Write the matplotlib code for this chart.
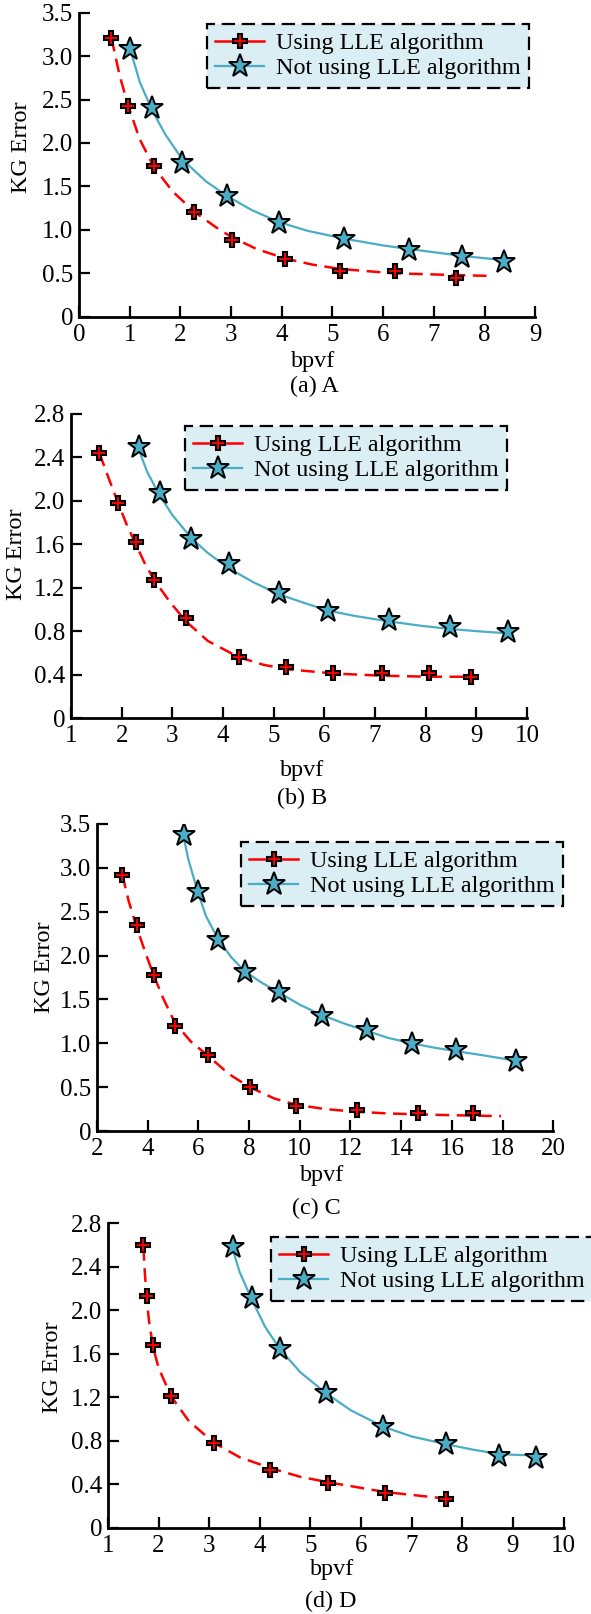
import numpy as np
import matplotlib
matplotlib.use('Agg')
import matplotlib.pyplot as plt
from matplotlib.lines import Line2D

plt.rcParams['font.family'] = ['Liberation Serif', 'DejaVu Serif']
plt.rcParams['font.size'] = 17.4

RED = '#FF0000'
CYAN = '#4BACC6'
LEG_BG = '#DAEEF3'

# ---- data ----
# (a) A
a_lle_x = [0.64, 0.97, 1.48, 2.27, 3.01, 4.07, 5.15, 6.23, 7.43]
a_lle_y = [3.21, 2.43, 1.73, 1.21, 0.88, 0.66, 0.53, 0.53, 0.44]
a_lle_fit_x = [0.64, 0.8, 0.97, 1.2, 1.48, 1.85, 2.27, 2.7, 3.0, 3.5, 4.07, 4.6, 5.15, 6.2, 7.4, 8.07]
a_lle_fit_y = [3.21, 2.78, 2.43, 2.04, 1.72, 1.44, 1.21, 1.03, 0.92, 0.78, 0.67, 0.60, 0.55, 0.50, 0.48, 0.47]
a_no_x = [1.01, 1.44, 2.04, 2.92, 3.94, 5.22, 6.50, 7.56, 8.39]
a_no_y = [3.08, 2.40, 1.77, 1.39, 1.08, 0.90, 0.77, 0.69, 0.63]
a_no_fit_x = [1.01, 1.2, 1.44, 1.7, 2.04, 2.5, 2.92, 3.4, 3.94, 4.5, 5.22, 6.0, 6.5, 7.56, 8.39]
a_no_fit_y = [3.08, 2.70, 2.38, 2.10, 1.81, 1.56, 1.39, 1.23, 1.09, 0.99, 0.90, 0.82, 0.78, 0.70, 0.65]

# (b) B
b_lle_x = [1.56, 1.93, 2.28, 2.63, 3.27, 4.31, 5.25, 6.18, 7.13, 8.07, 8.89]
b_lle_y = [2.44, 1.98, 1.62, 1.27, 0.92, 0.56, 0.47, 0.41, 0.41, 0.41, 0.38]
b_lle_fit_x = [1.56, 1.75, 1.93, 2.1, 2.28, 2.45, 2.63, 2.95, 3.27, 3.7, 4.31, 4.8, 5.25, 6.18, 7.13, 8.07, 8.89]
b_lle_fit_y = [2.44, 2.20, 1.98, 1.78, 1.60, 1.43, 1.28, 1.07, 0.89, 0.71, 0.56, 0.49, 0.45, 0.41, 0.39, 0.38, 0.38]
b_no_x = [2.34, 2.75, 3.37, 4.11, 5.10, 6.07, 7.27, 8.48, 9.62]
b_no_y = [2.50, 2.07, 1.65, 1.42, 1.15, 0.99, 0.90, 0.84, 0.79]
b_no_fit_x = [2.34, 2.5, 2.75, 3.0, 3.37, 3.7, 4.11, 4.6, 5.10, 5.6, 6.07, 6.6, 7.27, 7.9, 8.48, 9.0, 9.62]
b_no_fit_y = [2.47, 2.27, 2.05, 1.87, 1.66, 1.52, 1.38, 1.25, 1.14, 1.06, 0.99, 0.94, 0.89, 0.85, 0.82, 0.80, 0.78]

# (c) C
c_lle_x = [3.0, 3.56, 4.23, 5.08, 6.37, 8.02, 9.84, 12.25, 14.65, 16.85]
c_lle_y = [2.92, 2.35, 1.78, 1.20, 0.87, 0.50, 0.29, 0.24, 0.20, 0.20]
c_lle_fit_x = [3.0, 3.25, 3.56, 3.9, 4.23, 4.6, 5.08, 5.7, 6.37, 7.2, 8.02, 9.0, 9.84, 11.0, 12.2, 13.5, 14.6, 16.0, 17.94]
c_lle_fit_y = [2.92, 2.62, 2.33, 2.04, 1.78, 1.52, 1.23, 1.02, 0.86, 0.65, 0.50, 0.37, 0.30, 0.25, 0.22, 0.20, 0.19, 0.18, 0.17]
c_no_x = [5.42, 5.97, 6.79, 7.83, 9.17, 10.88, 12.66, 14.42, 16.16, 18.54]
c_no_y = [3.38, 2.73, 2.18, 1.81, 1.59, 1.31, 1.15, 0.99, 0.92, 0.80]
c_no_fit_x = [5.42, 5.6, 5.97, 6.3, 6.79, 7.3, 7.83, 8.5, 9.17, 10.0, 10.88, 11.8, 12.66, 13.5, 14.42, 15.3, 16.16, 17.3, 18.54]
c_no_fit_y = [3.35, 3.10, 2.73, 2.45, 2.18, 1.98, 1.82, 1.69, 1.58, 1.44, 1.32, 1.22, 1.14, 1.06, 1.00, 0.95, 0.91, 0.86, 0.80]

# (d) D
d_lle_x = [1.70, 1.78, 1.89, 2.245, 3.10, 4.21, 5.35, 6.48, 7.68]
d_lle_y = [2.60, 2.13, 1.68, 1.21, 0.78, 0.53, 0.41, 0.32, 0.27]
d_lle_fit_x = [1.70, 1.72, 1.76, 1.81, 1.89, 2.0, 2.245, 2.6, 3.1, 3.6, 4.21, 4.8, 5.35, 6.48, 7.68]
d_lle_fit_y = [2.58, 2.40, 2.13, 1.90, 1.66, 1.47, 1.21, 0.98, 0.78, 0.65, 0.55, 0.47, 0.42, 0.33, 0.27]
d_no_x = [3.47, 3.84, 4.40, 5.30, 6.44, 7.68, 8.72, 9.45]
d_no_y = [2.58, 2.11, 1.64, 1.24, 0.93, 0.77, 0.66, 0.64]
d_no_fit_x = [3.47, 3.6, 3.84, 4.1, 4.40, 4.8, 5.30, 5.8, 6.44, 7.0, 7.68, 8.2, 8.72, 9.1, 9.45]
d_no_fit_y = [2.55, 2.35, 2.10, 1.85, 1.64, 1.43, 1.24, 1.08, 0.93, 0.84, 0.77, 0.72, 0.68, 0.67, 0.67]

captions = ['(a) A', '(b) B', '(c) C', '(d) D']
series_names = ['Using LLE algorithm', 'Not using LLE algorithm']

W, H = 591, 1614
fig = plt.figure(figsize=(W / 100, H / 100), dpi=100)

# layout in pixels: axes box (left, top, right, bottom), legend corner, label spots
panels = [
    dict(box=(79, 12.7, 535.3, 316.7), xlim=(0, 9), xticks=np.arange(0, 10, 1),
         ylim=(0, 3.5), yticks=np.arange(0, 3.51, 0.5), leg=(207, 24),
         xlab=(313, 361.7), cap=(314, 386.7), ylab=(22, 147),
         data=(a_lle_x, a_lle_y, a_lle_fit_x, a_lle_fit_y, a_no_x, a_no_y, a_no_fit_x, a_no_fit_y)),
    dict(box=(71, 414, 527, 718), xlim=(1, 10), xticks=np.arange(1, 11, 1),
         ylim=(0, 2.8), yticks=np.arange(0, 2.81, 0.4), leg=(185, 426),
         xlab=(302, 770), cap=(302, 798), ylab=(17, 554),
         data=(b_lle_x, b_lle_y, b_lle_fit_x, b_lle_fit_y, b_no_x, b_no_y, b_no_fit_x, b_no_fit_y)),
    dict(box=(97, 824, 553.3, 1131), xlim=(2, 20), xticks=np.arange(2, 21, 2),
         ylim=(0, 3.5), yticks=np.arange(0, 3.51, 0.5), leg=(241, 842),
         xlab=(322, 1175), cap=(316, 1208), ylab=(45, 967),
         data=(c_lle_x, c_lle_y, c_lle_fit_x, c_lle_fit_y, c_no_x, c_no_y, c_no_fit_x, c_no_fit_y)),
    dict(box=(108, 1223, 563.5, 1528), xlim=(1, 10), xticks=np.arange(1, 11, 1),
         ylim=(0, 2.8), yticks=np.arange(0, 2.81, 0.4), leg=(271, 1237),
         xlab=(332, 1569), cap=(331, 1601), ylab=(52, 1367),
         data=(d_lle_x, d_lle_y, d_lle_fit_x, d_lle_fit_y, d_no_x, d_no_y, d_no_fit_x, d_no_fit_y)),
]


def ylabel_fmt(v):
    return '0' if abs(v) < 1e-9 else '%.1f' % v


red_kw = dict(marker='P', markersize=10, markerfacecolor=RED, markeredgecolor='black',
              markeredgewidth=1.5)
star_kw = dict(marker='*', markersize=17, markerfacecolor=CYAN, markeredgecolor='black',
               markeredgewidth=1.4)

for p, cap in zip(panels, captions):
    l, t, r, b = p['box']
    ax = fig.add_axes([l / W, 1 - b / H, (r - l) / W, (b - t) / H])
    lx, ly, lfx, lfy, nx, ny, nfx, nfy = p['data']

    ax.plot(lfx, lfy, color=RED, lw=1.8, linestyle=(0, (5.5, 3)), zorder=2)
    ax.plot(nfx, nfy, color=CYAN, lw=1.6, zorder=2)
    ax.plot(lx, ly, linestyle='none', zorder=3, **red_kw)
    ax.plot(nx, ny, linestyle='none', zorder=3, **star_kw)

    ax.set_xlim(*p['xlim'])
    ax.set_ylim(*p['ylim'])
    ax.set_xticks(p['xticks'])
    ax.set_xticklabels([str(int(v)) for v in p['xticks']])
    ax.set_yticks(p['yticks'])
    ax.set_yticklabels([ylabel_fmt(v) for v in p['yticks']])

    for side in ['top', 'right']:
        ax.spines[side].set_visible(False)
    for side in ['left', 'bottom']:
        ax.spines[side].set_linewidth(2.0)
    ax.tick_params(direction='in', length=7.7, width=1.6, pad=4, labelsize=18)
    ax.tick_params(axis='x', pad=5)

    # axis labels and caption, placed at pixel spots
    ax.set_xlabel('bpvf')
    ax.xaxis.label.set_va('center')
    ax.xaxis.set_label_coords((p['xlab'][0] - l) / (r - l), (b - p['xlab'][1]) / (b - t))
    ax.set_ylabel('KG Error')
    ax.yaxis.label.set_va('center')
    ax.yaxis.set_label_coords((p['ylab'][0] - l) / (r - l), (b - p['ylab'][1]) / (b - t))
    fig.text(p['cap'][0] / W, 1 - p['cap'][1] / H, cap, ha='center', va='center')

    handles = [
        Line2D([], [], color=RED, lw=1.8, **red_kw),
        Line2D([], [], color=CYAN, lw=1.6, **star_kw),
    ]
    leg = fig.legend(handles, series_names, loc='upper left',
                     bbox_to_anchor=(p['leg'][0] / W, 1 - p['leg'][1] / H),
                     bbox_transform=fig.transFigure, borderaxespad=0,
                     fancybox=False, framealpha=1, handlelength=2.0,
                     handletextpad=0.5, labelspacing=0.12, borderpad=0.35,
                     numpoints=1)
    fr = leg.get_frame()
    fr.set_facecolor(LEG_BG)
    fr.set_edgecolor('black')
    fr.set_linewidth(1.6)
    fr.set_linestyle((0, (6, 3)))

fig.savefig('out.png', dpi=100)
